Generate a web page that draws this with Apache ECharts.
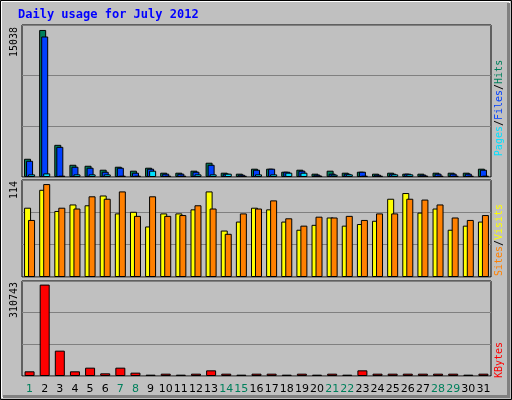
<!DOCTYPE html>
<html>
<head>
<meta charset="utf-8">
<script src="https://cdn.jsdelivr.net/npm/echarts@6/dist/echarts.min.js"></script>
<style>html,body{margin:0;padding:0;background:#c0c0c0}#chart{width:512px;height:400px}</style>
</head>
<body>
<div id="chart"></div>
<script>
// daily usage, July 2012
var days = [];
for (var i = 1; i <= 31; i++) days.push(String(i));
var weekends = ['1','7','8','14','15','21','22','28','29'];

var hits  = [1864,15038,3290,1250,1150,745,1050,645,950,440,440,645,1460,440,340,850,850,540,745,340,645,440,540,340,440,340,340,440,440,440,850];
var files = [1660,14370,3085,1050,950,540,950,440,850,340,340,540,1250,340,240,745,850,540,645,240,340,340,540,240,340,340,240,340,340,340,745];
var pages = [270,370,135,270,270,270,135,135,645,135,135,270,270,340,135,270,270,440,440,135,240,270,135,135,270,270,135,135,135,135,135];

var sites  = [85,107,81,89,88,100,78,80,62,78,78,83,105,57,68,85,83,68,58,64,73,63,65,69,96,103,79,84,58,63,68];
var visits = [70,114,85,84,99,96,105,75,99,75,76,88,84,53,78,84,94,72,63,74,73,75,70,78,78,96,95,89,73,70,76];

var kbytes = [15900,310743,86200,15900,28350,9070,28350,11340,4540,7940,4540,7940,19280,7940,4540,7940,7940,4540,7940,4540,7940,4540,19280,7940,7940,7940,7940,7940,7940,4540,7940];

var maxLabels = ['15038', '114', '310743'];

var chart = echarts.init(document.getElementById('chart'));
var ob = { borderColor: '#000', borderWidth: 1 };

function xa(idx, show) {
    return {
        type: 'category', data: days, gridIndex: idx,
        axisLine: { show: false }, axisTick: { show: false }, splitLine: { show: false },
        axisLabel: {
            show: show, interval: 0, margin: 8, fontFamily: 'DejaVu Sans', fontSize: 11,
            formatter: function(v) { return weekends.indexOf(v) >= 0 ? '{w|' + v + '}' : '{d|' + v + '}'; },
            rich: { w: { color: '#00805c', fontSize: 11 }, d: { color: '#000', fontSize: 11 } }
        }
    };
}
function ya(idx, max) {
    return {
        type: 'value', gridIndex: idx, min: 0, max: max, interval: max / 3,
        axisLabel: { show: false }, axisLine: { show: false }, axisTick: { show: false },
        splitLine: { lineStyle: { color: '#808080', width: 1 } }
    };
}
function bar(name, data, idx, color, w, gap) {
    return {
        name: name, type: 'bar', data: data, xAxisIndex: idx, yAxisIndex: idx,
        barWidth: w, barGap: gap, animation: false,
        itemStyle: Object.assign({ color: color }, ob)
    };
}
function vtext(x, y, rich, text) {
    return { type: 'text', x: x, y: y, rotation: Math.PI / 2,
        style: { text: text, rich: rich, fontFamily: 'DejaVu Sans Mono', fontSize: 10, align: 'center', verticalAlign: 'middle' } };
}

chart.setOption({
    backgroundColor: '#c0c0c0',
    grid: [
        { left: 22, right: 21, top: 25, height: 152, show: true, backgroundColor: '#c0c0c0', borderColor: '#000' },
        { left: 22, right: 21, top: 180, height: 97, show: true, backgroundColor: '#c0c0c0', borderColor: '#000' },
        { left: 22, right: 21, top: 281, height: 95, show: true, backgroundColor: '#c0c0c0', borderColor: '#000' }
    ],
    xAxis: [xa(0, false), xa(1, false), xa(2, true)],
    yAxis: [ya(0, 15546), ya(1, 119), ya(2, 323000)],
    series: [
        bar('Hits', hits, 0, '#00805c', 7, '-71%'),
        bar('Files', files, 0, '#0040ff', 7, '-71%'),
        bar('Pages', pages, 0, '#00e0ff', 7, '-71%'),
        bar('Sites', sites, 1, '#ffff00', 7, '-43%'),
        bar('Visits', visits, 1, '#ff8000', 7, '-43%'),
        bar('KBytes', kbytes, 2, '#ff0000', 10, '0%')
    ],
    graphic: [
        { type: 'rect', shape: { x: 0.5, y: 0.5, width: 511, height: 399 }, style: { fill: null, stroke: '#000' }, silent: true },
        { type: 'rect', shape: { x: 1.5, y: 1.5, width: 508, height: 396 }, style: { fill: null, stroke: '#fff' }, silent: true },
        { type: 'polyline', shape: { points: [[3, 396.5], [508.5, 396.5], [508.5, 3]] }, style: { fill: null, stroke: '#808080', lineWidth: 3 }, silent: true },
        { type: 'text', x: 18, y: 9, style: { text: 'Daily usage for July 2012', fill: '#0000ff', fontFamily: 'DejaVu Sans Mono', fontWeight: 'bold', fontSize: 12 } },
        vtext(14, 42, {}, maxLabels[0]),
        vtext(14, 190, {}, maxLabels[1]),
        vtext(14, 300, {}, maxLabels[2]),
        vtext(499, 108, { p: { fill: '#00e0ff' }, f: { fill: '#0040ff' }, h: { fill: '#00805c' }, s: { fill: '#000' } }, '{p|Pages}{s|/}{f|Files}{s|/}{h|Hits}'),
        vtext(499, 240, { a: { fill: '#ff8000' }, b: { fill: '#ffff00' }, s: { fill: '#000' } }, '{a|Sites}{s|/}{b|Visits}'),
        vtext(499, 360, { k: { fill: '#ff0000' } }, '{k|KBytes}')
    ]
});
</script>
</body>
</html>
